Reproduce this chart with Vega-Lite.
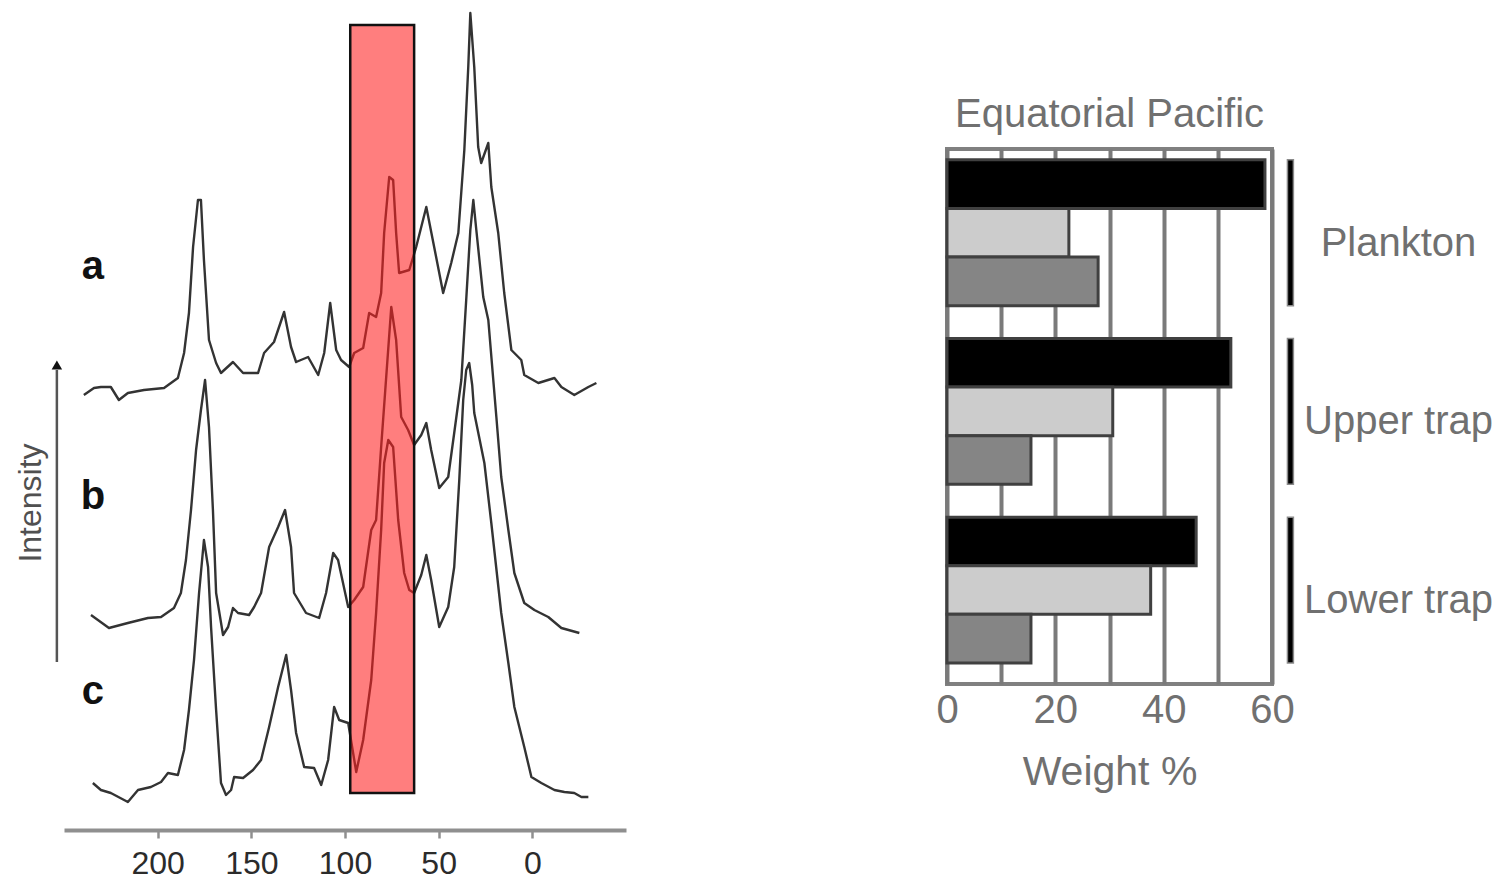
{
  "$schema": "https://vega.github.io/schema/vega-lite/v6.json",
  "padding": {"left": 14, "top": 0, "right": 0, "bottom": 0},
  "background": "white",
  "config": {"view": {"stroke": null}, "font": "Liberation Sans"},
  "bounds": "flush",
  "spacing": 321,
  "datasets": {
    "traces": [
      {"trace":"a","ppm":239.4,"intensity":435},{"trace":"a","ppm":234.0,"intensity":442},{"trace":"a","ppm":230.3,"intensity":443},{"trace":"a","ppm":225.0,"intensity":443},{"trace":"a","ppm":220.7,"intensity":430},{"trace":"a","ppm":215.9,"intensity":437},{"trace":"a","ppm":207.3,"intensity":440},{"trace":"a","ppm":196.6,"intensity":442},{"trace":"a","ppm":189.2,"intensity":452},{"trace":"a","ppm":185.9,"intensity":477},{"trace":"a","ppm":183.3,"intensity":517},{"trace":"a","ppm":181.1,"intensity":583},{"trace":"a","ppm":178.5,"intensity":630},{"trace":"a","ppm":176.9,"intensity":630},{"trace":"a","ppm":175.3,"intensity":570},{"trace":"a","ppm":172.6,"intensity":490},{"trace":"a","ppm":168.8,"intensity":467},{"trace":"a","ppm":166.2,"intensity":457},{"trace":"a","ppm":159.8,"intensity":468},{"trace":"a","ppm":154.4,"intensity":457},{"trace":"a","ppm":146.4,"intensity":457},{"trace":"a","ppm":143.2,"intensity":477},{"trace":"a","ppm":137.9,"intensity":488},{"trace":"a","ppm":132.5,"intensity":518},{"trace":"a","ppm":128.8,"intensity":483},{"trace":"a","ppm":126.1,"intensity":468},{"trace":"a","ppm":119.7,"intensity":473},{"trace":"a","ppm":114.3,"intensity":455},{"trace":"a","ppm":111.1,"intensity":477},{"trace":"a","ppm":107.9,"intensity":527},{"trace":"a","ppm":104.7,"intensity":480},{"trace":"a","ppm":102.1,"intensity":470},{"trace":"a","ppm":97.8,"intensity":463},{"trace":"a","ppm":95.1,"intensity":477},{"trace":"a","ppm":90.3,"intensity":482},{"trace":"a","ppm":87.1,"intensity":517},{"trace":"a","ppm":83.4,"intensity":513},{"trace":"a","ppm":80.7,"intensity":537},{"trace":"a","ppm":79.1,"intensity":597},{"trace":"a","ppm":76.4,"intensity":653},{"trace":"a","ppm":74.3,"intensity":650},{"trace":"a","ppm":72.7,"intensity":597},{"trace":"a","ppm":71.1,"intensity":557},{"trace":"a","ppm":65.7,"intensity":560},{"trace":"a","ppm":62.0,"intensity":583},{"trace":"a","ppm":56.6,"intensity":623},{"trace":"a","ppm":52.4,"intensity":583},{"trace":"a","ppm":47.6,"intensity":537},{"trace":"a","ppm":43.3,"intensity":567},{"trace":"a","ppm":39.5,"intensity":597},{"trace":"a","ppm":36.3,"intensity":680},{"trace":"a","ppm":34.2,"intensity":763},{"trace":"a","ppm":33.1,"intensity":817},{"trace":"a","ppm":31.0,"intensity":763},{"trace":"a","ppm":28.9,"intensity":683},{"trace":"a","ppm":27.3,"intensity":667},{"trace":"a","ppm":23.5,"intensity":687},{"trace":"a","ppm":21.9,"intensity":643},{"trace":"a","ppm":18.2,"intensity":597},{"trace":"a","ppm":15.0,"intensity":537},{"trace":"a","ppm":11.2,"intensity":480},{"trace":"a","ppm":5.9,"intensity":470},{"trace":"a","ppm":4.3,"intensity":455},{"trace":"a","ppm":-3.2,"intensity":447},{"trace":"a","ppm":-11.8,"intensity":452},{"trace":"a","ppm":-15.5,"intensity":443},{"trace":"a","ppm":-22.4,"intensity":435},{"trace":"a","ppm":-29.9,"intensity":443},{"trace":"a","ppm":-34.2,"intensity":447},
      {"trace":"b","ppm":235.6,"intensity":215},{"trace":"b","ppm":231.9,"intensity":210},{"trace":"b","ppm":226.0,"intensity":202},{"trace":"b","ppm":215.9,"intensity":207},{"trace":"b","ppm":205.2,"intensity":212},{"trace":"b","ppm":198.2,"intensity":213},{"trace":"b","ppm":191.3,"intensity":222},{"trace":"b","ppm":187.6,"intensity":237},{"trace":"b","ppm":184.9,"intensity":270},{"trace":"b","ppm":182.2,"intensity":320},{"trace":"b","ppm":179.5,"intensity":380},{"trace":"b","ppm":176.9,"intensity":420},{"trace":"b","ppm":174.7,"intensity":450},{"trace":"b","ppm":172.6,"intensity":403},{"trace":"b","ppm":170.5,"intensity":320},{"trace":"b","ppm":168.8,"intensity":237},{"trace":"b","ppm":165.1,"intensity":195},{"trace":"b","ppm":162.4,"intensity":203},{"trace":"b","ppm":159.8,"intensity":222},{"trace":"b","ppm":157.1,"intensity":217},{"trace":"b","ppm":151.2,"intensity":215},{"trace":"b","ppm":148.5,"intensity":223},{"trace":"b","ppm":144.8,"intensity":237},{"trace":"b","ppm":140.5,"intensity":283},{"trace":"b","ppm":135.7,"intensity":303},{"trace":"b","ppm":132.0,"intensity":320},{"trace":"b","ppm":128.8,"intensity":283},{"trace":"b","ppm":127.2,"intensity":237},{"trace":"b","ppm":120.8,"intensity":217},{"trace":"b","ppm":113.8,"intensity":212},{"trace":"b","ppm":110.1,"intensity":237},{"trace":"b","ppm":106.3,"intensity":277},{"trace":"b","ppm":103.7,"intensity":270},{"trace":"b","ppm":98.3,"intensity":223},{"trace":"b","ppm":95.1,"intensity":230},{"trace":"b","ppm":90.3,"intensity":243},{"trace":"b","ppm":86.0,"intensity":300},{"trace":"b","ppm":83.4,"intensity":310},{"trace":"b","ppm":80.7,"intensity":383},{"trace":"b","ppm":78.5,"intensity":440},{"trace":"b","ppm":75.3,"intensity":523},{"trace":"b","ppm":72.7,"intensity":490},{"trace":"b","ppm":70.0,"intensity":413},{"trace":"b","ppm":66.3,"intensity":400},{"trace":"b","ppm":63.1,"intensity":385},{"trace":"b","ppm":59.3,"intensity":395},{"trace":"b","ppm":56.6,"intensity":407},{"trace":"b","ppm":54.0,"intensity":380},{"trace":"b","ppm":49.7,"intensity":342},{"trace":"b","ppm":44.9,"intensity":353},{"trace":"b","ppm":41.7,"intensity":397},{"trace":"b","ppm":37.9,"intensity":450},{"trace":"b","ppm":35.3,"intensity":530},{"trace":"b","ppm":33.1,"intensity":600},{"trace":"b","ppm":31.5,"intensity":630},{"trace":"b","ppm":29.9,"intensity":600},{"trace":"b","ppm":26.2,"intensity":533},{"trace":"b","ppm":23.5,"intensity":510},{"trace":"b","ppm":19.2,"intensity":413},{"trace":"b","ppm":16.6,"intensity":353},{"trace":"b","ppm":12.8,"intensity":300},{"trace":"b","ppm":9.6,"intensity":257},{"trace":"b","ppm":4.3,"intensity":227},{"trace":"b","ppm":-1.1,"intensity":220},{"trace":"b","ppm":-8.5,"intensity":213},{"trace":"b","ppm":-15.5,"intensity":202},{"trace":"b","ppm":-25.1,"intensity":197},
      {"trace":"c","ppm":234.6,"intensity":47},{"trace":"c","ppm":230.3,"intensity":40},{"trace":"c","ppm":225.0,"intensity":37},{"trace":"c","ppm":215.9,"intensity":28},{"trace":"c","ppm":210.5,"intensity":40},{"trace":"c","ppm":203.6,"intensity":43},{"trace":"c","ppm":198.2,"intensity":48},{"trace":"c","ppm":194.5,"intensity":57},{"trace":"c","ppm":189.2,"intensity":55},{"trace":"c","ppm":185.9,"intensity":80},{"trace":"c","ppm":183.3,"intensity":120},{"trace":"c","ppm":180.6,"intensity":170},{"trace":"c","ppm":177.9,"intensity":237},{"trace":"c","ppm":175.3,"intensity":290},{"trace":"c","ppm":173.1,"intensity":263},{"trace":"c","ppm":171.5,"intensity":203},{"trace":"c","ppm":168.8,"intensity":120},{"trace":"c","ppm":166.2,"intensity":47},{"trace":"c","ppm":163.5,"intensity":35},{"trace":"c","ppm":160.8,"intensity":40},{"trace":"c","ppm":159.2,"intensity":53},{"trace":"c","ppm":154.4,"intensity":52},{"trace":"c","ppm":149.1,"intensity":60},{"trace":"c","ppm":144.8,"intensity":70},{"trace":"c","ppm":140.5,"intensity":103},{"trace":"c","ppm":135.7,"intensity":143},{"trace":"c","ppm":131.4,"intensity":175},{"trace":"c","ppm":128.8,"intensity":140},{"trace":"c","ppm":126.1,"intensity":97},{"trace":"c","ppm":121.8,"intensity":63},{"trace":"c","ppm":116.5,"intensity":62},{"trace":"c","ppm":112.7,"intensity":45},{"trace":"c","ppm":109.0,"intensity":70},{"trace":"c","ppm":105.8,"intensity":123},{"trace":"c","ppm":103.1,"intensity":110},{"trace":"c","ppm":98.3,"intensity":107},{"trace":"c","ppm":94.0,"intensity":58},{"trace":"c","ppm":90.3,"intensity":90},{"trace":"c","ppm":86.0,"intensity":150},{"trace":"c","ppm":83.4,"intensity":217},{"trace":"c","ppm":80.7,"intensity":300},{"trace":"c","ppm":79.1,"intensity":367},{"trace":"c","ppm":76.9,"intensity":390},{"trace":"c","ppm":74.3,"intensity":383},{"trace":"c","ppm":71.6,"intensity":310},{"trace":"c","ppm":68.4,"intensity":257},{"trace":"c","ppm":65.7,"intensity":240},{"trace":"c","ppm":63.1,"intensity":237},{"trace":"c","ppm":59.3,"intensity":255},{"trace":"c","ppm":56.6,"intensity":275},{"trace":"c","ppm":54.0,"intensity":250},{"trace":"c","ppm":49.7,"intensity":203},{"trace":"c","ppm":44.9,"intensity":223},{"trace":"c","ppm":41.7,"intensity":263},{"trace":"c","ppm":39.0,"intensity":350},{"trace":"c","ppm":36.9,"intensity":430},{"trace":"c","ppm":35.3,"intensity":460},{"trace":"c","ppm":33.7,"intensity":467},{"trace":"c","ppm":32.1,"intensity":445},{"trace":"c","ppm":31.0,"intensity":417},{"trace":"c","ppm":25.6,"intensity":367},{"trace":"c","ppm":21.9,"intensity":307},{"trace":"c","ppm":16.6,"intensity":217},{"trace":"c","ppm":12.8,"intensity":167},{"trace":"c","ppm":9.6,"intensity":123},{"trace":"c","ppm":4.3,"intensity":83},{"trace":"c","ppm":0.5,"intensity":53},{"trace":"c","ppm":-4.8,"intensity":47},{"trace":"c","ppm":-11.8,"intensity":40},{"trace":"c","ppm":-17.1,"intensity":38},{"trace":"c","ppm":-22.4,"intensity":37},{"trace":"c","ppm":-26.2,"intensity":33},{"trace":"c","ppm":-29.9,"intensity":33}
    ],
    "traceLabels": [
      {"label":"a","ppm":234.6,"intensity":563},
      {"label":"b","ppm":234.6,"intensity":333},
      {"label":"c","ppm":234.6,"intensity":138}
    ],
    "bars": [
      {"group":"Plankton","series":"Component 1","value":58.7},
      {"group":"Plankton","series":"Component 2","value":22.5},
      {"group":"Plankton","series":"Component 3","value":27.9},
      {"group":"Upper trap","series":"Component 1","value":52.4},
      {"group":"Upper trap","series":"Component 2","value":30.6},
      {"group":"Upper trap","series":"Component 3","value":15.5},
      {"group":"Lower trap","series":"Component 1","value":46.0},
      {"group":"Lower trap","series":"Component 2","value":37.6},
      {"group":"Lower trap","series":"Component 3","value":15.5}
    ],
    "groups": [
      {"group":"Plankton"},{"group":"Upper trap"},{"group":"Lower trap"}
    ]
  },
  "hconcat": [
    {
      "width": 562,
      "height": 830,
      "layer": [
        {
          "data": {"name": "traces"},
          "mark": {"type": "line", "color": "#333333", "strokeWidth": 2.4, "strokeJoin": "round"},
          "encoding": {
            "x": {"field": "ppm", "type": "quantitative",
              "scale": {"domain": [250, -50], "nice": false, "zero": false},
              "axis": {"title": null, "values": [200, 150, 100, 50, 0], "grid": false,
                "domainColor": "#8f8f8f", "domainWidth": 4, "tickColor": "#8f8f8f", "tickWidth": 2.5, "tickSize": 8,
                "labelFontSize": 32, "labelColor": "#2b2b2b", "labelPadding": 10, "labelFlush": false, "labelOverlap": false}},
            "y": {"field": "intensity", "type": "quantitative", "scale": {"domain": [0, 830], "nice": false, "zero": false}, "axis": null},
            "detail": {"field": "trace"}
          }
        },
        {
          "data": {"values": [{"band": "highlight"}]},
          "mark": {"type": "rect", "fill": "#ff2020", "fillOpacity": 0.58, "stroke": "#111111", "strokeWidth": 2.5, "strokeOpacity": 1},
          "encoding": {
            "x": {"datum": 97.2, "type": "quantitative", "title": null, "scale": {"domain": [250, -50], "nice": false, "zero": false}},
            "x2": {"datum": 63.1},
            "y": {"datum": 37, "type": "quantitative", "title": null, "scale": {"domain": [0, 830], "nice": false, "zero": false}, "axis": null},
            "y2": {"datum": 805}
          }
        },
        {
          "data": {"values": [{"arrow": "intensity"}]},
          "mark": {"type": "rule", "color": "#555555", "strokeWidth": 2.5},
          "encoding": {
            "x": {"datum": 253.8, "type": "quantitative", "title": null},
            "y": {"datum": 168, "type": "quantitative", "title": null, "axis": null},
            "y2": {"datum": 460}
          }
        },
        {
          "data": {"values": [{"arrow": "intensity"}]},
          "mark": {"type": "point", "shape": "triangle-up", "filled": true, "color": "#111111", "size": 110, "opacity": 1},
          "encoding": {
            "x": {"datum": 253.8, "type": "quantitative", "title": null},
            "y": {"datum": 465, "type": "quantitative", "title": null, "axis": null}
          }
        },
        {
          "data": {"values": [{"text": "Intensity"}]},
          "mark": {"type": "text", "angle": 270, "fontSize": 32, "color": "#505050", "align": "center", "baseline": "middle"},
          "encoding": {
            "x": {"datum": 267.7, "type": "quantitative", "title": null},
            "y": {"datum": 327, "type": "quantitative", "title": null, "axis": null},
            "text": {"field": "text"}
          }
        },
        {
          "data": {"name": "traceLabels"},
          "mark": {"type": "text", "fontSize": 40, "fontWeight": "bold", "color": "#111111", "align": "center", "baseline": "middle"},
          "encoding": {
            "x": {"field": "ppm", "type": "quantitative", "title": null},
            "y": {"field": "intensity", "type": "quantitative", "title": null, "axis": null},
            "text": {"field": "label"}
          }
        }
      ]
    },
    {
      "bounds": "flush",
      "spacing": 10,
      "vconcat": [
        {
          "width": 325,
          "height": 139,
          "data": {"values": [{"spacer": 1}]},
          "mark": {"type": "text", "text": ""},
          "encoding": {}
        },
        {
          "width": 325,
          "height": 535,
          "title": {"text": "Equatorial Pacific", "fontSize": 40, "color": "#707070", "fontWeight": "normal", "anchor": "middle", "baseline": "alphabetic", "offset": -18},
          "view": {"stroke": "#808080", "strokeWidth": 4},
          "layer": [
            {
              "data": {"name": "bars"},
              "mark": {"type": "bar", "stroke": "#404040", "strokeWidth": 3},
              "encoding": {
                "y": {"field": "group", "type": "nominal", "sort": ["Plankton", "Upper trap", "Lower trap"],
                  "scale": {"paddingInner": 0.184, "paddingOuter": 0.0894, "align": 0.34},
                  "axis": {"orient": "right", "title": null, "domain": false, "ticks": false, "labelAlign": "center", "labelBaseline": "middle",
                    "labelPadding": 126, "labelFontSize": 40, "labelColor": "#707070", "labelOffset": 11, "labelLimit": 400}},
                "yOffset": {"field": "series", "type": "nominal", "sort": ["Component 1", "Component 2", "Component 3"],
                  "scale": {"paddingInner": 0, "paddingOuter": 0}},
                "x": {"field": "value", "type": "quantitative",
                  "scale": {"domain": [0, 60], "nice": false, "zero": true},
                  "axis": {"values": [0, 10, 20, 30, 40, 50, 60], "labelExpr": "datum.value % 20 === 0 ? datum.label : ''",
                    "grid": true, "gridColor": "#7a7a7a", "gridWidth": 4, "gridOpacity": 1,
                    "domain": false, "ticks": false, "labelFontSize": 40, "labelColor": "#707070", "labelPadding": 6,
                    "labelFlush": false, "labelOverlap": false,
                    "title": "Weight %", "titleFontSize": 41, "titleColor": "#707070", "titleFontWeight": "normal", "titlePadding": 22}},
                "fill": {"field": "series", "type": "nominal",
                  "scale": {"domain": ["Component 1", "Component 2", "Component 3"], "range": ["#000000", "#cccccc", "#858585"]},
                  "legend": null}
              }
            },
            {
              "data": {"name": "groups"},
              "mark": {"type": "bar", "fill": "#000000", "stroke": "#8a8a8a", "strokeWidth": 1.5},
              "encoding": {
                "y": {"field": "group", "type": "nominal", "sort": ["Plankton", "Upper trap", "Lower trap"]},
                "x": {"datum": 62.85, "type": "quantitative", "scale": {"domain": [0, 60], "nice": false, "zero": true}},
                "x2": {"datum": 63.95}
              }
            }
          ]
        }
      ]
    }
  ]
}
